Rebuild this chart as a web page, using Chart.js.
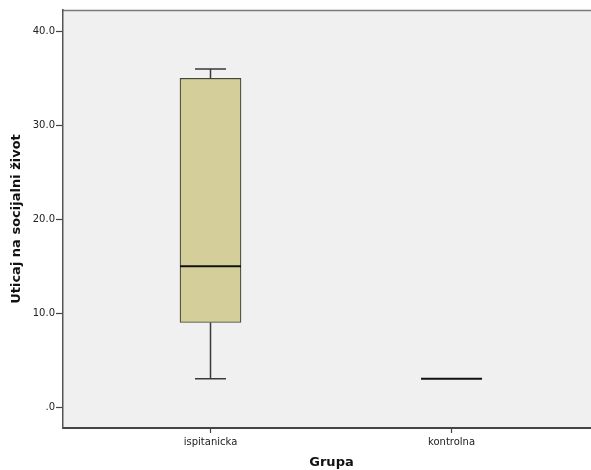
<!DOCTYPE html>
<html>
<head>
<meta charset="utf-8">
<script src="https://cdn.jsdelivr.net/npm/chart.js@4/dist/chart.umd.min.js"></script>
<style>
  html, body { margin: 0; padding: 0; background: #fff; overflow: hidden; width: 591px; height: 470px; }
  #wrap { width: 620px; height: 470px; }
</style>
</head>
<body>
<div id="wrap"><canvas id="c" width="620" height="470"></canvas></div>
<script>
// Data
const categories = ['ispitanicka', 'kontrolna'];
const positions = [1, 2];
const mins = [3, 3];
const q1s = [9, 3];
const medians = [15, 3];
const q3s = [35, 3];
const maxs = [36, 3];
const yTicks = [0, 10, 20, 30, 40];

const FONT = '"DejaVu Sans", sans-serif';

const boxData = positions.map((x, i) => (q3s[i] > q1s[i] ? { x: x, y: [q1s[i], q3s[i]] } : { x: x, y: null }));

const boxPlugin = {
  id: 'boxPlugin',
  beforeDraw(chart) {
    const { ctx, chartArea: a } = chart;
    ctx.save();
    ctx.fillStyle = '#f0f0f0';
    ctx.fillRect(a.left, a.top, a.right - a.left, a.bottom - a.top);
    ctx.strokeStyle = '#7a7a7a';
    ctx.lineWidth = 1.5;
    ctx.beginPath();
    ctx.moveTo(a.left, a.top + 0.5);
    ctx.lineTo(a.right, a.top + 0.5);
    ctx.stroke();
    ctx.restore();
  },
  afterDatasetsDraw(chart) {
    const { ctx } = chart;
    const xs = chart.scales.x, ys = chart.scales.y;
    const boxW = 61, capW = 31;
    ctx.save();
    positions.forEach((p, i) => {
      const cx = xs.getPixelForValue(p);
      const yMin = ys.getPixelForValue(mins[i]);
      const yMax = ys.getPixelForValue(maxs[i]);
      const yQ1 = ys.getPixelForValue(q1s[i]);
      const yQ3 = ys.getPixelForValue(q3s[i]);
      const yMed = ys.getPixelForValue(medians[i]);
      if (maxs[i] > mins[i]) {
        ctx.strokeStyle = '#3a3a3a';
        ctx.lineWidth = 1.5;
        ctx.beginPath();
        ctx.moveTo(cx, yQ3); ctx.lineTo(cx, yMax);
        ctx.moveTo(cx - capW / 2, yMax); ctx.lineTo(cx + capW / 2, yMax);
        ctx.moveTo(cx, yQ1); ctx.lineTo(cx, yMin);
        ctx.moveTo(cx - capW / 2, yMin); ctx.lineTo(cx + capW / 2, yMin);
        ctx.stroke();
      }
      ctx.strokeStyle = '#111';
      ctx.lineWidth = 2;
      ctx.beginPath();
      ctx.moveTo(cx - boxW / 2, yMed); ctx.lineTo(cx + boxW / 2, yMed);
      ctx.stroke();
    });
    ctx.restore();
  }
};

new Chart(document.getElementById('c'), {
  type: 'bar',
  data: {
    datasets: [{
      data: boxData,
      backgroundColor: '#d3ce9a',
      borderColor: '#45453a',
      borderWidth: 1.2,
      borderSkipped: false,
      barThickness: 61
    }]
  },
  options: {
    responsive: false,
    devicePixelRatio: 1,
    animation: false,
    layout: { padding: { top: 10, right: 20, left: 0, bottom: 0 } },
    plugins: { legend: { display: false }, tooltip: { enabled: false } },
    scales: {
      x: {
        type: 'linear',
        offset: false,
        min: 0.388,
        max: 2.616,
        afterBuildTicks(scale) { scale.ticks = positions.map(v => ({ value: v })); },
        afterFit(scale) { scale.height = 42; },
        ticks: {
          callback: (v) => categories[positions.indexOf(v)] || '',
          color: '#222',
          font: { family: FONT, size: 10 },
          padding: 3,
          maxRotation: 0,
          autoSkip: false
        },
        grid: { offset: false, drawOnChartArea: false, drawTicks: true, tickLength: 5, tickColor: '#444', tickWidth: 1.2 },
        border: { color: '#444', width: 2 },
        title: {
          display: true,
          text: 'Grupa',
          color: '#111',
          font: { family: FONT, size: 13, weight: 'bold' },
          padding: { top: 0, bottom: 0 }
        }
      },
      y: {
        min: -2.23,
        max: 42.27,
        afterBuildTicks(scale) { scale.ticks = yTicks.map(v => ({ value: v })); },
        afterFit(scale) { scale.width = 63; },
        ticks: {
          callback: (v) => (v === 0 ? '.0' : v.toFixed(1)),
          color: '#222',
          font: { family: FONT, size: 10 },
          padding: 1
        },
        grid: { drawOnChartArea: false, drawTicks: true, tickLength: 7, tickColor: '#444', tickWidth: 1.2 },
        border: { color: '#555', width: 1.5 },
        title: {
          display: true,
          text: 'Uticaj na socijalni život',
          color: '#111',
          font: { family: FONT, size: 13, weight: 'bold' },
          padding: { top: 9, bottom: 0 }
        }
      }
    }
  },
  plugins: [boxPlugin]
});
</script>
</body>
</html>
